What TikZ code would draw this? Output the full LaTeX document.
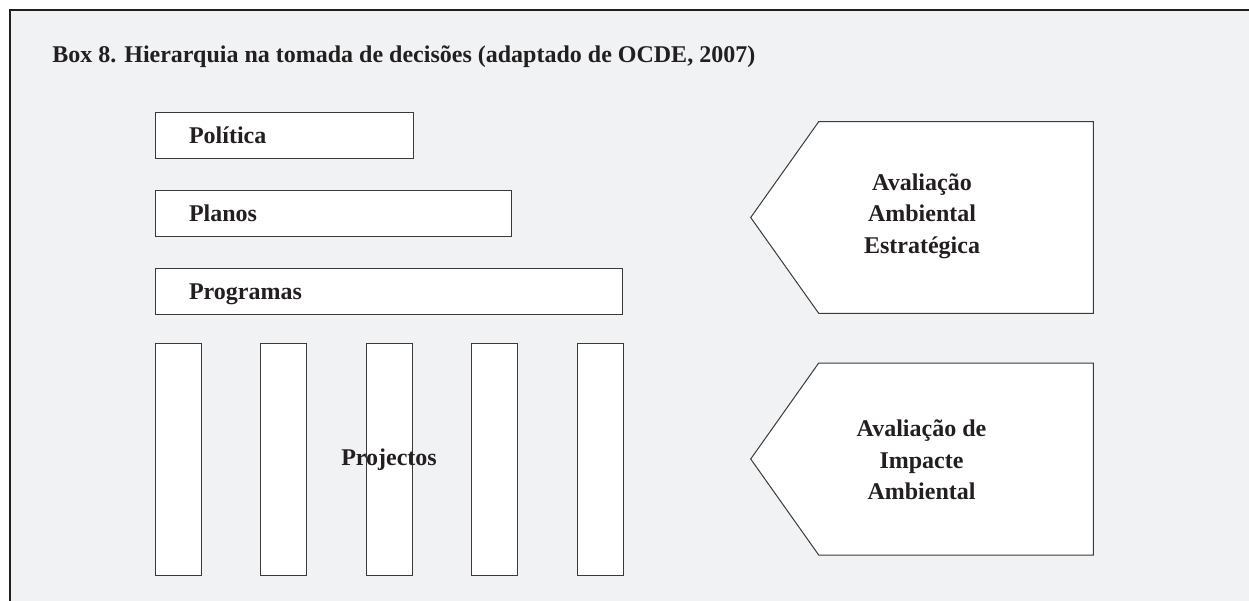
\documentclass[tikz,border=0pt]{standalone}
\usepackage{fontspec}
\setmainfont{Liberation Serif}
\usetikzlibrary{positioning}
\definecolor{boxgray}{HTML}{F1F2F4}
\definecolor{ink}{HTML}{231F20}
\definecolor{edge}{HTML}{3A3A3A}

\begin{document}
\begin{tikzpicture}[x=1pt, y=-1pt]
	\tikzset{node distance=32pt and 59.5pt,
		every node/.style={font=\bfseries\fontsize{24}{31.7}\selectfont, text=ink, outer sep=0pt},
		level/.style={draw=edge, line width=1pt, fill=white, inner xsep=34pt, inner ysep=0pt, minimum height=46pt, text width=#1, text height=16pt, text depth=0pt, align=left},
		bar/.style={draw=edge, line width=1pt, fill=white, minimum width=46pt, minimum height=232pt, inner sep=0pt},
		arrowbox/.style={draw=edge, line width=1pt, fill=white, line join=miter}}

	\clip (0,0) rectangle (1249,601);
	\draw[line width=2pt, draw=ink, fill=boxgray] (10,10) rectangle (1270,620);

	\node[anchor=base west] (title) at (49,63) {Box 8. Hierarquia na tomada de decisões (adaptado de OCDE, 2007)};

	\node[level=190pt, anchor=north west] (pol) at (155,112.5) {Política};
	\node[level=288pt, below=of pol.south west, anchor=north west] (pla) {Planos};
	\node[level=399pt, below=of pla.south west, anchor=north west] (prg) {Programas};

	\node[bar, below=29pt of prg.south west, anchor=north west] (p1) {};
	\node[bar, right=of p1] (p2) {};
	\node[bar, right=of p2] (p3) {};
	\node[bar, right=of p3] (p4) {};
	\node[bar, right=of p4] (p5) {};
	\node (proj) at (p3) {Projectos};

	\draw[arrowbox] (750.7,217.5) -- (818.7,121.7) -- (1093.3,121.7) -- (1093.3,313.3) -- (818.7,313.3) -- cycle;
	\node[align=center] (aae) at (922,216) {Avaliação\\Ambiental\\Estratégica};

	\draw[arrowbox] (750.7,459) -- (818.7,363) -- (1093.3,363) -- (1093.3,555) -- (818.7,555) -- cycle;
	\node[align=center] (aia) at (921.5,460) {Avaliação de\\Impacte\\Ambiental};
\end{tikzpicture}
\end{document}
